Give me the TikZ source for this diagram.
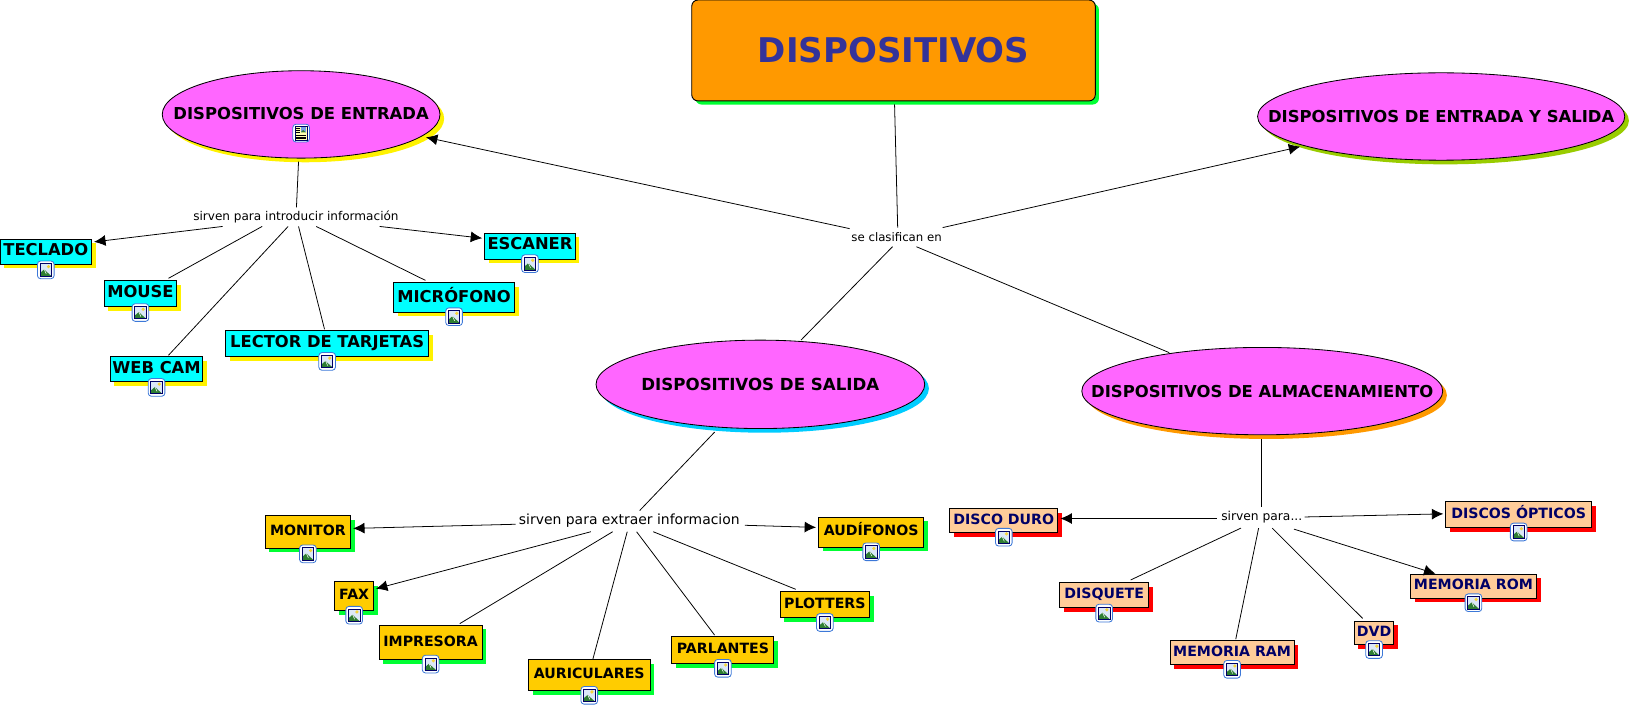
\documentclass[tikz,border=0pt]{standalone}
\usepackage{fontspec}
\setmainfont{DejaVu Sans}
\usetikzlibrary{shapes.geometric,shadows,calc,arrows.meta}
\definecolor{magentaF}{HTML}{FF66FF}
\definecolor{titleorange}{HTML}{FF9900}
\definecolor{titleblue}{HTML}{333399}
\definecolor{cyanF}{HTML}{00FFFF}
\definecolor{goldF}{HTML}{FFCC00}
\definecolor{peachF}{HTML}{FFCC99}
\definecolor{navyT}{HTML}{000066}
\definecolor{greenS}{HTML}{00FF33}
\definecolor{oliveS}{HTML}{99CC00}
\definecolor{skyS}{HTML}{00CCFF}
\definecolor{iconB}{HTML}{3C78D8}
\definecolor{iconSky}{HTML}{DCE8F8}
\definecolor{iconHill}{HTML}{2E7D32}
\definecolor{iconSun}{HTML}{F5D33C}
\definecolor{iconPage}{HTML}{FFFFB0}
\newcommand{\zw}[2][0pt]{\raisebox{#1}{\makebox[0pt][c]{#2}}}
\tikzset{
  x=1pt,y=-1pt,
  boxbase/.style={draw=black,line width=0.9pt,inner sep=0pt,text height=.74em,text depth=0pt,font=\fontsize{13.6}{14}\selectfont\bfseries},
  cbox/.style={boxbase,fill=cyanF,font=\fontsize{15.7}{17}\selectfont\bfseries,general shadow={fill=yellow,shadow xshift=4pt,shadow yshift=-4pt}},
  gbox/.style={boxbase,fill=goldF,general shadow={fill=greenS,shadow xshift=4pt,shadow yshift=-4pt}},
  pbox/.style={boxbase,fill=peachF,text=navyT,general shadow={fill=red,shadow xshift=4pt,shadow yshift=-4pt}},
  ell/.style={ellipse,draw=black,line width=0.8pt,fill=magentaF,inner sep=0pt,font=\fontsize{15.8}{17}\selectfont\bfseries},
  phrase/.style={inner sep=0pt,fill=none},
  lnk/.style={line width=0.75pt,black},
  arr/.style={lnk,-{Latex[length=11pt,width=10.5pt]}},
  pics/imgicon/.style={code={
    \draw[fill=white,draw=iconB,line width=0.8pt,rounded corners=3pt] (-8,-8.5) rectangle (8,8.5);
    \fill[iconSky] (-5.5,-6) rectangle (5.5,6);
    \fill[iconHill] (-5.5,6) -- (-5.5,3) -- (-1.5,-0.5) -- (1,2) -- (5.5,6) -- cycle;
    \draw[white,line width=0.5pt] (-1.5,-0.5) -- (0.5,4);
    \fill[iconSun] (2.6,-3.2) circle (1.7);
    \draw[navyT,line width=0.7pt] (-5.5,-6) rectangle (5.5,6);
  }},
  pics/docicon/.style={code={
    \draw[fill=white,draw=iconB,line width=0.8pt,rounded corners=3pt] (-8,-8.5) rectangle (8,8.5);
    \draw[navyT,fill=iconPage,line width=0.6pt] (-5.5,-6.5) rectangle (5.5,6.5);
    \fill[iconB!70] (-0.2,-5.5) rectangle (4.5,-0.8);
    \fill[iconHill] (-0.2,-0.8) -- (2,-3) -- (4.5,-0.8) -- cycle;
    \foreach \yy in {-4.5,-2.5,-0.5}{\draw[black,line width=0.4pt] (-4.5,\yy) -- (-1.2,\yy);}
    \foreach \yy in {1.7,3.5,5.2}{\draw[black,line width=0.4pt] (-4.5,\yy) -- (4.5,\yy);}
  }}
}
\begin{document}
\begin{tikzpicture}
\useasboundingbox (0,0) rectangle (1568,678.7);
% main nodes
\node[draw=black,line width=0.9pt,fill=titleorange,rounded corners=6pt,minimum width=388pt,minimum height=97pt,inner sep=0pt,text=titleblue,font=\fontsize{32.7}{34}\selectfont\bfseries,general shadow={fill=greenS,shadow xshift=3.5pt,shadow yshift=-3.5pt}] (title) at (859,48.5) {DISPOSITIVOS};
\node[ell,minimum width=267pt,minimum height=84pt,general shadow={fill=yellow,shadow xshift=4pt,shadow yshift=-4pt}] (entrada) at (289.5,110) {\zw[2pt]{DISPOSITIVOS DE ENTRADA}};
\node[ell,minimum width=353pt,minimum height=84pt,general shadow={fill=oliveS,shadow xshift=4pt,shadow yshift=-4pt}] (eys) at (1385.5,112) {\zw[-1pt]{DISPOSITIVOS DE ENTRADA Y SALIDA}};
\node[ell,minimum width=316pt,minimum height=85pt,general shadow={fill=skyS,shadow xshift=4pt,shadow yshift=-4pt},font=\fontsize{16}{17}\selectfont\bfseries] (salida) at (731,369.5) {\zw[-0.5pt]{DISPOSITIVOS DE SALIDA}};
\node[ell,minimum width=347pt,minimum height=84pt,general shadow={fill=titleorange,shadow xshift=4pt,shadow yshift=-4pt}] (almac) at (1213.5,376) {\zw{DISPOSITIVOS DE ALMACENAMIENTO}};
% linking phrases
\node[phrase,minimum width=88pt,minimum height=17pt,font=\fontsize{11.3}{13}\selectfont] (lp0) at (862,227.5) {se clasifican en};
\node[phrase,minimum width=197pt,minimum height=18pt,font=\fontsize{11.6}{13}\selectfont] (lp1) at (284.5,208.5) {sirven para introducir información};
\node[phrase,minimum width=214pt,minimum height=20pt,font=\fontsize{13.4}{15}\selectfont] (lp2) at (605,501) {sirven para extraer informacion};
\node[phrase,minimum width=82pt,minimum height=19pt,font=\fontsize{11.8}{13}\selectfont] (lp3) at (1213,497) {sirven para...};
% cyan
\node[cbox,minimum width=88pt,minimum height=24pt] (teclado) at (44,242) {TECLADO};
\node[cbox,minimum width=70pt,minimum height=25pt] (mouse) at (135,282.5) {MOUSE};
\node[cbox,minimum width=89pt,minimum height=24pt] (webcam) at (150.5,355) {WEB CAM};
\node[cbox,minimum width=195pt,minimum height=25pt] (lector) at (314.5,330.5) {LECTOR DE TARJETAS};
\node[cbox,minimum width=116pt,minimum height=28pt] (micro) at (436.5,286) {\raisebox{-1.5pt}{MICRÓFONO}};
\node[cbox,minimum width=87pt,minimum height=25pt] (escaner) at (509.5,236.5) {ESCANER};
% gold
\node[gbox,minimum width=82pt,minimum height=31pt] (monitor) at (296,511.5) {MONITOR};
\node[gbox,minimum width=37pt,minimum height=28pt] (fax) at (340.5,573) {FAX};
\node[gbox,minimum width=99pt,minimum height=33pt] (impresora) at (414,617.5) {IMPRESORA};
\node[gbox,minimum width=117pt,minimum height=30pt] (auric) at (566.5,649) {AURICULARES};
\node[gbox,minimum width=98pt,minimum height=26pt] (parlantes) at (695,625) {PARLANTES};
\node[gbox,minimum width=86pt,minimum height=25pt] (plotters) at (793,581.5) {PLOTTERS};
\node[gbox,minimum width=101pt,minimum height=29pt] (audifonos) at (837.5,511.5) {AUDÍFONOS};
% peach
\node[pbox,minimum width=104pt,minimum height=23pt] (duro) at (965,500.5) {DISCO DURO};
\node[pbox,minimum width=140pt,minimum height=25pt] (opticos) at (1460,494.5) {DISCOS ÓPTICOS};
\node[pbox,minimum width=85pt,minimum height=24pt] (disquete) at (1061.5,572) {DISQUETE};
\node[pbox,minimum width=119pt,minimum height=23pt] (ram) at (1184.5,627.5) {MEMORIA RAM};
\node[pbox,minimum width=38pt,minimum height=23pt] (dvd) at (1321,608.5) {DVD};
\node[pbox,minimum width=121pt,minimum height=23pt] (rom) at (1416.5,563.5) {MEMORIA ROM};
% icons
\pic at ($(entrada.center)+(0,18)$) {docicon};
\foreach \nn/\dd in {teclado/5,mouse/5,webcam/5,lector/4,micro/4,escaner/4,monitor/5,fax/4,impresora/4,auric/4,parlantes/4,plotters/4,audifonos/4,duro/4,opticos/4,disquete/5,ram/4,dvd/4,rom/4}{
  \pic at ($(\nn.south)+(0,\dd)$) {imgicon};
}
% connectors
\draw[lnk] ($(title.south)+(1,3)$) -- ($(lp0.north)+(1,0)$);
\draw[arr] ($(lp0.north west)+(-1,1)$) -- ($(entrada.center)+(120,22)$);
\draw[arr] ($(lp0.north east)+(0,0)$) -- ($(eys.center)+(-135.5,29)$);
\draw[lnk] ($(lp0.south)+(-4,1)$) -- ($(salida.center)+(39,-42.5)$);
\draw[lnk] ($(lp0.south)+(19,1)$) -- ($(almac.center)+(-89.5,-37)$);
\draw[lnk] ($(entrada.south)+(-2.5,3)$) -- ($(lp1.north)+(0.5,0)$);
\draw[arr] ($(lp1.south)+(-70.5,0)$) -- ($(teclado.north east)+(2,3)$);
\draw[lnk] ($(lp1.south)+(-32.5,0)$) -- ($(mouse.north)+(27,-2)$);
\draw[lnk] ($(lp1.south)+(-7.5,0)$) -- ($(webcam.north)+(11.5,-1)$);
\draw[lnk] ($(lp1.south)+(2.5,0)$) -- ($(lector.north)+(-2.5,-1)$);
\draw[lnk] ($(lp1.south)+(19.5,0)$) -- ($(micro.north)+(-27.5,-2)$);
\draw[arr] ($(lp1.south)+(80.5,0)$) -- ($(escaner.west)+(-2,-7.5)$);
\draw[lnk] ($(salida.south)+(-44,3)$) -- ($(lp2.north)+(10,0)$);
\draw[arr] ($(lp2.west)+(-2,3)$) -- ($(monitor.east)+(2,-3.5)$);
\draw[arr] ($(lp2.east)+(4,4)$) -- ($(audifonos.west)+(-2,-4.5)$);
\draw[arr] ($(lp2.south)+(-37,0)$) -- ($(fax.east)+(2,-7)$);
\draw[lnk] ($(lp2.south)+(-16,0)$) -- ($(impresora.north)+(28,-1)$);
\draw[lnk] ($(lp2.south)+(-2,0)$) -- ($(auric.north)+(3.5,0)$);
\draw[lnk] ($(lp2.south)+(7,0)$) -- ($(parlantes.north)+(-8,-1)$);
\draw[lnk] ($(lp2.south)+(23,0)$) -- ($(plotters.north)+(-28,-2)$);
\draw[lnk] ($(almac.south)+(-0.5,4)$) -- ($(lp3.north)+(0,0)$);
\draw[arr] ($(lp3.west)+(-2,1.5)$) -- ($(duro.east)+(2,-2)$);
\draw[arr] ($(lp3.east)+(0,0)$) -- ($(opticos.west)+(-2,-0.5)$);
\draw[lnk] ($(lp3.south)+(-20,1)$) -- ($(disquete.north)+(25.5,-2)$);
\draw[lnk] ($(lp3.south)+(-3,1)$) -- ($(ram.north)+(3.5,-1)$);
\draw[lnk] ($(lp3.south)+(10,1)$) -- ($(dvd.north)+(-11,-2)$);
\draw[arr] ($(lp3.south)+(31,2)$) -- ($(rom.north)+(-36.5,0)$);
\end{tikzpicture}
\end{document}
